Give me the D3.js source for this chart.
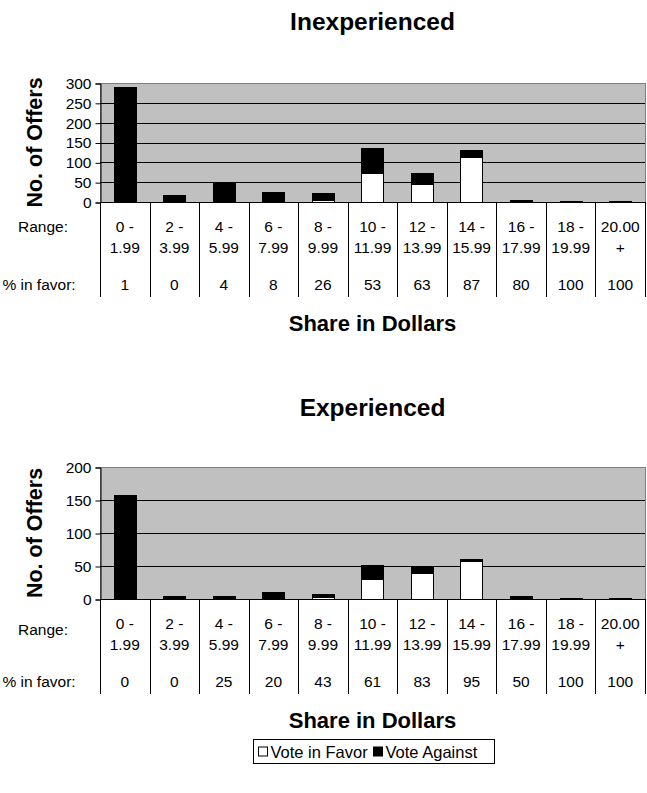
<!DOCTYPE html>
<html>
<head>
<meta charset="utf-8">
<script src="https://cdn.jsdelivr.net/npm/d3@7"></script>
<style>
  body { margin: 0; background: #fff; }
  svg { display: block; }
  text { font-family: "Liberation Sans", Arial, sans-serif; fill: #000; }
</style>
</head>
<body>
<svg id="chart" width="647" height="793"></svg>
<script>
// Offer ranges (two-line labels) shared by both panels
const rangeLow  = ["0 -", "2 -", "4 -", "6 -", "8 -", "10 -", "12 -", "14 -", "16 -", "18 -", "20.00"];
const rangeHigh = ["1.99", "3.99", "5.99", "7.99", "9.99", "11.99", "13.99", "15.99", "17.99", "19.99", "+"];

// Inexperienced responders: offers voted in favour / against, and % in favour
const inexpFavor   = [3, 0, 2, 2, 6, 72, 46, 114, 4, 3, 3];
const inexpAgainst = [287, 17, 46, 23, 17, 64, 27, 17, 1, 0, 0];
const inexpPct     = [1, 0, 4, 8, 26, 53, 63, 87, 80, 100, 100];
const inexpTicks   = [0, 50, 100, 150, 200, 250, 300];

// Experienced responders
const expFavor   = [0, 0, 1, 2, 3, 31, 40, 58, 2, 2, 2];
const expAgainst = [157, 5, 3, 8, 4, 20, 8, 3, 2, 0, 0];
const expPct     = [0, 0, 25, 20, 43, 61, 83, 95, 50, 100, 100];
const expTicks   = [0, 50, 100, 150, 200];

const seriesNames = ["Vote in Favor", "Vote Against"];
const seriesFill  = ["#ffffff", "#000000"];

const svg = d3.select("#chart");
const plotLeft = 100, plotRight = 645;
const bodySize = 15.5;

function drawPanel(p) {
  const g = svg.append("g");
  const x = d3.scaleBand().domain(d3.range(rangeLow.length)).range([plotLeft, plotRight]);
  const yMax = p.ticks[p.ticks.length - 1];
  const y = d3.scaleLinear().domain([0, yMax]).range([p.bottom, p.top]);
  const bw = x.bandwidth();
  const barW = bw * 0.45;

  // chart title
  g.append("text").attr("x", (plotLeft + plotRight) / 2).attr("y", p.titleY)
    .attr("text-anchor", "middle").attr("font-size", 24.5).attr("font-weight", "bold")
    .text(p.title);

  // plot area
  g.append("rect").attr("x", plotLeft + 0.5).attr("y", y(yMax) + 0.5)
    .attr("width", plotRight - plotLeft).attr("height", y(0) - y(yMax))
    .attr("fill", "#c0c0c0").attr("stroke", "#808080");

  // gridlines
  g.selectAll("line.grid").data(p.ticks.slice(1, -1)).join("line")
    .attr("x1", plotLeft).attr("x2", plotRight)
    .attr("y1", d => Math.round(y(d)) + 0.5).attr("y2", d => Math.round(y(d)) + 0.5)
    .attr("stroke", "#000").attr("stroke-width", 1);

  // stacked bars: favour at the bottom, against on top
  const stacked = d3.stack().keys([0, 1])(rangeLow.map((_, i) => [p.favor[i], p.against[i]]));
  stacked.forEach((layer, k) => {
    const segs = layer.map((d, i) => ({ d, i })).filter(o => o.d[1] > o.d[0]);
    g.selectAll(null).data(segs).join("rect")
      .attr("x", o => Math.round(x(o.i) + (bw - barW) / 2) + 0.5)
      .attr("y", o => Math.round(y(o.d[1])) + 0.5)
      .attr("width", Math.round(barW))
      .attr("height", o => Math.max(1, Math.round(y(o.d[0])) - Math.round(y(o.d[1]))))
      .attr("fill", seriesFill[k]).attr("stroke", "#000").attr("stroke-width", 1);
  });

  // y axis
  const ya = d3.axisLeft(y).tickValues(p.ticks).tickSize(5).tickPadding(4).tickFormat(d3.format("d"));
  const yg = g.append("g").attr("transform", `translate(${plotLeft + 0.5},0.5)`).call(ya);
  yg.selectAll("text").attr("font-size", 15.5).attr("font-family", "Liberation Sans, Arial, sans-serif").attr("fill", "#000");
  yg.selectAll("line,path").attr("stroke", "#000");

  // y axis title
  const cy = (p.top + p.bottom) / 2;
  g.append("text").attr("transform", `translate(42,${cy}) rotate(-90)`)
    .attr("text-anchor", "middle").attr("font-size", 21.5).attr("font-weight", "bold")
    .text("No. of Offers");

  // category axis line and table rules
  g.append("line").attr("x1", plotLeft).attr("x2", plotRight + 1)
    .attr("y1", p.bottom + 0.5).attr("y2", p.bottom + 0.5).attr("stroke", "#000");
  g.selectAll(null).data(d3.range(rangeLow.length + 1)).join("line")
    .attr("x1", i => Math.round(plotLeft + i * bw) + 0.5).attr("x2", i => Math.round(plotLeft + i * bw) + 0.5)
    .attr("y1", p.bottom).attr("y2", p.bottom + 95).attr("stroke", "#000");

  // table rows
  const row = (vals, dy) => g.selectAll(null).data(vals).join("text")
    .attr("x", (_, i) => x(i) + bw / 2).attr("y", p.bottom + dy)
    .attr("text-anchor", "middle").attr("font-size", bodySize).text(d => d);
  row(rangeLow, 30);
  row(rangeHigh, 51);
  row(p.pct, 88);
  g.append("text").attr("x", 43).attr("y", p.bottom + p.rangeDy).attr("text-anchor", "middle")
    .attr("font-size", bodySize).text("Range:");
  g.append("text").attr("x", 39).attr("y", p.bottom + 88).attr("text-anchor", "middle")
    .attr("font-size", bodySize).text("% in favor:");

  // category axis title
  g.append("text").attr("x", (plotLeft + plotRight) / 2).attr("y", p.bottom + 129)
    .attr("text-anchor", "middle").attr("font-size", 22).attr("font-weight", "bold")
    .text("Share in Dollars");
}

drawPanel({ title: "Inexperienced", titleY: 30, top: 83, bottom: 202, rangeDy: 30,
  ticks: inexpTicks, favor: inexpFavor, against: inexpAgainst, pct: inexpPct });
drawPanel({ title: "Experienced", titleY: 416, top: 467, bottom: 599, rangeDy: 36,
  ticks: expTicks, favor: expFavor, against: expAgainst, pct: expPct });

// legend
const lg = svg.append("g").attr("transform", "translate(253.5,739.5)");
lg.append("rect").attr("width", 241).attr("height", 24).attr("fill", "#fff").attr("stroke", "#000");
const itemX = [5, 120];
seriesNames.forEach((name, k) => {
  lg.append("rect").attr("x", itemX[k]).attr("y", 7.5).attr("width", 9).attr("height", 9)
    .attr("fill", seriesFill[k]).attr("stroke", "#000");
  lg.append("text").attr("x", itemX[k] + 12).attr("y", 18).attr("font-size", 16.5).text(name);
});
</script>
</body>
</html>
